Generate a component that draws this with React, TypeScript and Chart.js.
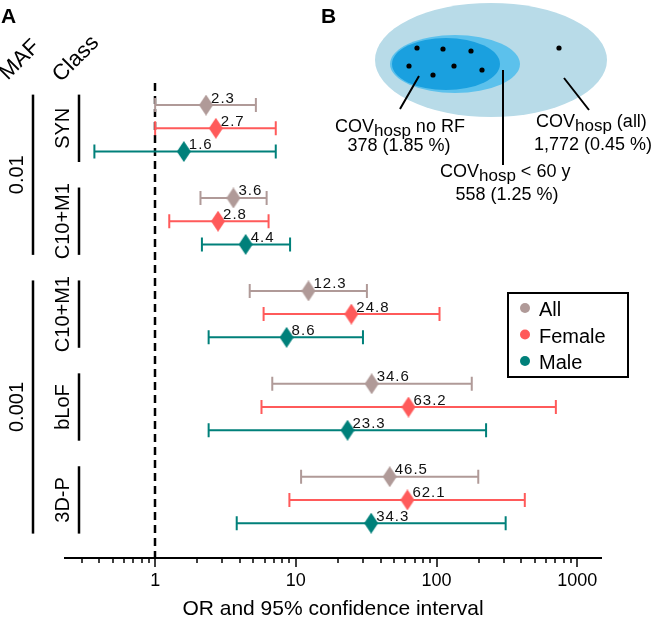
import React, { useEffect, useRef } from 'react';
import { Chart, registerables } from 'chart.js';

Chart.register(...registerables);

// ---------- data ----------
const classLabels = ['SYN', 'C10+M1', 'C10+M1', 'bLoF', '3D-P'];
const mafLabels = ['0.01', '0.001'];
const mafFirstGroup = [0, 2];
const mafLastGroup = [1, 4];
const seriesNames = ['All', 'Female', 'Male'];
const seriesColors = ['#b09a98', '#ff5a5a', '#00807a'];

const orAll = [2.3, 3.6, 12.3, 34.6, 46.5];
const lowAll = [1.0, 2.1, 4.7, 6.8, 10.9];
const highAll = [5.2, 6.2, 32, 178, 198];

const orFemale = [2.7, 2.8, 24.8, 63.2, 62.1];
const lowFemale = [1.0, 1.26, 5.9, 5.7, 9.0];
const highFemale = [7.2, 6.4, 105, 705, 424];

const orMale = [1.6, 4.4, 8.6, 23.3, 34.3];
const lowMale = [0.37, 2.15, 2.4, 2.4, 3.8];
const highMale = [7.2, 9.1, 30, 225, 310];

const xTickLabels = ['1', '10', '100', '1000'];
const xTitle = 'OR and 95% confidence interval';

const vennNames = ['no RF', '< 60 y', '(all)'];
const vennCounts = ['378 (1.85 %)', '558 (1.25 %)', '1,772 (0.45 %)'];

const orSeries = [orAll, orFemale, orMale];
const lowSeries = [lowAll, lowFemale, lowMale];
const highSeries = [highAll, highFemale, highMale];

const FONT = '"Liberation Sans", Arial, Helvetica, sans-serif';
const rowPos = (g: number, s: number) => g * 4 + s;

function makeDiamond(color: string) {
  const c = document.createElement('canvas');
  c.width = 14;
  c.height = 21;
  const ctx = c.getContext('2d')!;
  ctx.fillStyle = color;
  ctx.beginPath();
  ctx.moveTo(7, 0);
  ctx.lineTo(14, 10.5);
  ctx.lineTo(7, 21);
  ctx.lineTo(0, 10.5);
  ctx.closePath();
  ctx.fill();
  return c;
}

const forestPlugin = {
  id: 'forest',
  beforeDatasetsDraw(chart: any) {
    const { ctx, chartArea, scales } = chart;
    const xs = scales.x;
    const ys = scales.y;
    ctx.save();
    // reference line at OR = 1
    ctx.strokeStyle = '#000';
    ctx.lineWidth = 2.5;
    ctx.setLineDash([8, 5]);
    const x1 = Math.round(xs.getPixelForValue(1));
    ctx.beginPath();
    ctx.moveTo(x1, chartArea.top);
    ctx.lineTo(x1, chartArea.bottom);
    ctx.stroke();
    ctx.setLineDash([]);
    // error bars
    ctx.lineWidth = 2;
    for (let s = 0; s < 3; s++) {
      ctx.strokeStyle = seriesColors[s];
      for (let g = 0; g < classLabels.length; g++) {
        const y = ys.getPixelForValue(rowPos(g, s));
        const xl = xs.getPixelForValue(lowSeries[s][g]);
        const xh = xs.getPixelForValue(highSeries[s][g]);
        ctx.beginPath();
        ctx.moveTo(xl, y);
        ctx.lineTo(xh, y);
        ctx.moveTo(xl, y - 7);
        ctx.lineTo(xl, y + 7);
        ctx.moveTo(xh, y - 7);
        ctx.lineTo(xh, y + 7);
        ctx.stroke();
      }
    }
    ctx.restore();
  },
  afterDatasetsDraw(chart: any) {
    const { ctx } = chart;
    ctx.save();
    ctx.font = `15px ${FONT}`;
    (ctx as any).letterSpacing = '1px';
    ctx.fillStyle = '#111';
    ctx.textAlign = 'left';
    ctx.textBaseline = 'alphabetic';
    chart.data.datasets.forEach((ds: any, i: number) => {
      const meta = chart.getDatasetMeta(i);
      meta.data.forEach((pt: any, j: number) => {
        ctx.fillText(ds.data[j].x.toFixed(1), pt.x + 5, pt.y - 2.5);
      });
    });
    ctx.restore();
  },
  afterDraw(chart: any) {
    const { ctx, chartArea, scales } = chart;
    const xs = scales.x;
    const ys = scales.y;
    ctx.save();
    // x axis line and ticks
    ctx.strokeStyle = '#000';
    ctx.lineWidth = 2;
    ctx.beginPath();
    ctx.moveTo(chartArea.left, chartArea.bottom);
    ctx.lineTo(chartArea.right, chartArea.bottom);
    ctx.stroke();
    ctx.lineWidth = 1.5;
    xs.ticks.forEach((t: any) => {
      const v = t.value;
      const e = Math.floor(Math.log10(v) + 1e-9);
      const m = v / Math.pow(10, e);
      if (Math.abs(m - Math.round(m)) > 1e-6) return;
      const len = Math.round(m) === 1 ? 9 : 5;
      const px = Math.round(xs.getPixelForValue(v));
      ctx.beginPath();
      ctx.moveTo(px, chartArea.bottom);
      ctx.lineTo(px, chartArea.bottom + len);
      ctx.stroke();
    });

    // left annotation: panel letters and headers
    ctx.fillStyle = '#000';
    ctx.font = `bold 21px ${FONT}`;
    ctx.textAlign = 'left';
    ctx.textBaseline = 'alphabetic';
    ctx.fillText('A', 1, 23);
    ctx.fillText('B', 321, 23);

    ctx.textAlign = 'center';
    ctx.textBaseline = 'middle';
    const rot = (txt: string, x: number, y: number, a: number) => {
      ctx.save();
      ctx.translate(x, y);
      ctx.rotate(a);
      ctx.fillText(txt, 0, 0);
      ctx.restore();
    };
    ctx.font = `22px ${FONT}`;
    rot('MAF', 20, 60, -Math.PI / 4);
    rot('Class', 76, 59, -Math.PI / 4);

    ctx.font = `20px ${FONT}`;
    ctx.lineWidth = 2.5;
    // class brackets
    classLabels.forEach((lab, g) => {
      const yTop = ys.getPixelForValue(rowPos(g, 0) - 0.45);
      const yBot = ys.getPixelForValue(rowPos(g, 2) + 0.45);
      ctx.beginPath();
      ctx.moveTo(79, yTop);
      ctx.lineTo(79, yBot);
      ctx.stroke();
      rot(lab, 63, ys.getPixelForValue(rowPos(g, 1)), -Math.PI / 2);
    });
    mafLabels.forEach((lab, k) => {
      const yTop = ys.getPixelForValue(rowPos(mafFirstGroup[k], 0) - 0.45);
      const yBot = ys.getPixelForValue(rowPos(mafLastGroup[k], 2) + 0.45);
      ctx.beginPath();
      ctx.moveTo(33, yTop);
      ctx.lineTo(33, yBot);
      ctx.stroke();
      rot(lab, 17, (yTop + yBot) / 2, -Math.PI / 2);
    });

    // legend
    ctx.lineWidth = 2;
    ctx.strokeRect(508, 293, 120, 84);
    ctx.font = `20px ${FONT}`;
    ctx.textAlign = 'left';
    ctx.textBaseline = 'alphabetic';
    seriesNames.forEach((n, i) => {
      const cy = 308 + i * 26.5;
      ctx.fillStyle = seriesColors[i];
      ctx.beginPath();
      ctx.arc(525, cy, 5, 0, Math.PI * 2);
      ctx.fill();
      ctx.fillStyle = '#000';
      ctx.fillText(n, 539, cy + 8);
    });

    // Venn diagram (panel B)
    const ell = (cx: number, cy: number, rx: number, ry: number, col: string) => {
      ctx.fillStyle = col;
      ctx.beginPath();
      ctx.ellipse(cx, cy, rx, ry, 0, 0, Math.PI * 2);
      ctx.fill();
    };
    ell(491, 60, 116, 57, '#b8dbe8');
    ell(455, 64, 65, 29, '#5cc1ec');
    ell(446, 64, 54, 26, '#1aa0df');
    ctx.fillStyle = '#000';
    [[417, 48], [443, 49], [471, 51], [409, 66], [454, 66], [482, 70], [433, 75], [559, 48]].forEach(([x, y]) => {
      ctx.beginPath();
      ctx.arc(x, y, 2.6, 0, Math.PI * 2);
      ctx.fill();
    });
    ctx.strokeStyle = '#000';
    ctx.lineWidth = 2;
    ctx.beginPath();
    ctx.moveTo(419, 76); ctx.lineTo(400, 109);
    ctx.moveTo(503, 70); ctx.lineTo(503, 165);
    ctx.moveTo(564, 78); ctx.lineTo(589, 110);
    ctx.stroke();

    const covLabel = (x: number, y: number, rest: string) => {
      ctx.textAlign = 'left';
      ctx.textBaseline = 'alphabetic';
      ctx.font = `18px ${FONT}`;
      ctx.fillText('COV', x, y);
      let cx = x + ctx.measureText('COV').width;
      ctx.font = `17px ${FONT}`;
      ctx.fillText('hosp', cx, y + 4);
      cx += ctx.measureText('hosp').width;
      ctx.font = `18px ${FONT}`;
      ctx.fillText(' ' + rest, cx, y);
    };
    ctx.fillStyle = '#000';
    covLabel(335, 132, vennNames[0]);
    covLabel(440, 177, vennNames[1]);
    covLabel(536, 127, vennNames[2]);
    ctx.font = `18px ${FONT}`;
    ctx.textAlign = 'center';
    ctx.fillText(vennCounts[0], 399, 151);
    ctx.fillText(vennCounts[1], 507, 200);
    ctx.fillText(vennCounts[2], 593, 150);
    ctx.restore();
  },
};

export default function App() {
  const ref = useRef<HTMLCanvasElement | null>(null);
  useEffect(() => {
    if (!ref.current) return;
    const diamonds = seriesColors.map(makeDiamond);
    const datasets = seriesNames.map((name, s) => ({
      label: name,
      data: orSeries[s].map((v, g) => ({ x: v, y: rowPos(g, s) })),
      pointStyle: diamonds[s],
      backgroundColor: seriesColors[s],
      borderColor: seriesColors[s],
      showLine: false,
    }));
    const chart = new Chart(ref.current, {
      type: 'scatter',
      data: { datasets },
      plugins: [forestPlugin],
      options: {
        responsive: false,
        animation: false,
        events: [],
        devicePixelRatio: 1,
        layout: { padding: { left: 64, right: 53, top: 83, bottom: 0 } },
        font: { family: FONT },
        plugins: { legend: { display: false }, tooltip: { enabled: false } },
        scales: {
          x: {
            type: 'logarithmic',
            min: 0.225,
            max: 1500,
            grid: { display: false, drawTicks: false },
            border: { display: false },
            afterFit: (scale: any) => {
              scale.height = 61;
            },
            ticks: {
              autoSkip: false,
              maxRotation: 0,
              padding: 12,
              color: '#000',
              font: { size: 18, family: FONT },
              callback: (v: any) => {
                const s = String(Number(v));
                return xTickLabels.includes(s) ? s : '';
              },
            },
            title: {
              display: true,
              text: xTitle,
              color: '#000',
              font: { size: 21, family: FONT, lineHeight: 1 },
              padding: { top: 0, bottom: -1 },
            },
          },
          y: {
            type: 'linear',
            reverse: true,
            min: -0.95,
            max: 19.5,
            display: false,
          },
        },
      } as any,
    });
    return () => chart.destroy();
  }, []);
  return (
    <div style={{ position: 'fixed', left: 0, top: 0, width: 655, height: 619 }}>
      <canvas ref={ref} width={655} height={619} style={{ display: 'block' }} />
    </div>
  );
}
